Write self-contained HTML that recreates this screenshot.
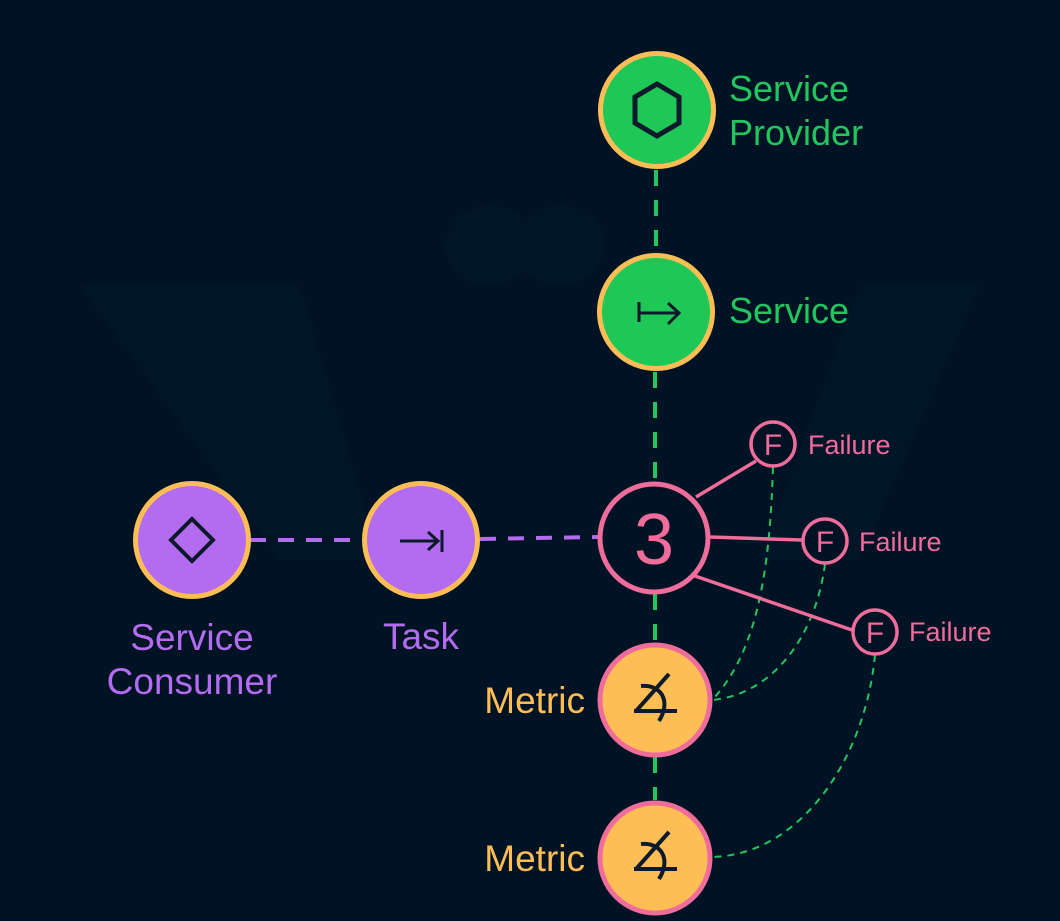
<!DOCTYPE html>
<html><head><meta charset="utf-8"><style>
html,body{margin:0;padding:0;background:#001325;}
svg{display:block}
text{font-family:"Liberation Sans",sans-serif}
</style></head><body>
<svg width="1060" height="921" viewBox="0 0 1060 921" xmlns="http://www.w3.org/2000/svg">
<rect width="1060" height="921" fill="#001325"/>
<g fill="#011529">
<path d="M80 285 L300 285 L380 560 L280 560 Z"/>
<path d="M980 285 L860 285 L760 560 L860 560 Z"/>
<ellipse cx="490" cy="245" rx="45" ry="40"/>
<ellipse cx="560" cy="245" rx="45" ry="40"/>
</g>
<g stroke="#22c55e" stroke-width="4" stroke-dasharray="16,14" fill="none">
<line x1="656" y1="170" x2="656" y2="252"/>
<line x1="655" y1="372" x2="655" y2="482"/>
<line x1="655" y1="594" x2="655" y2="643"/>
<line x1="655" y1="757" x2="655" y2="800"/>
</g>
<g stroke="#22c55e" stroke-width="2" stroke-dasharray="7,6" fill="none">
<path d="M773 467 C770 560 760 650 712 700"/>
<path d="M825 564 C815 640 770 695 712 700"/>
<path d="M875 655 C865 760 800 855 712 857"/>
</g>
<g stroke="#b36cf0" stroke-width="4" stroke-dasharray="16,12" fill="none">
<line x1="250" y1="540" x2="362" y2="540"/>
<line x1="480" y1="539" x2="598" y2="537"/>
</g>
<g stroke="#f06c9b" stroke-width="3.5" fill="none">
<line x1="696" y1="497" x2="756" y2="461"/>
<line x1="710" y1="537" x2="802" y2="540"/>
<line x1="695" y1="576" x2="852" y2="630"/>
</g>
<circle cx="657" cy="110" r="56.5" fill="#1ec756" stroke="#ffbe55" stroke-width="5"/>
<polygon points="657,84 679,97 679,123 657,136 635,123 635,97" fill="none" stroke="#0c1a2c" stroke-width="5"/>
<text x="729" y="101" fill="#22c55e" font-size="36">Service</text>
<text x="729" y="145" fill="#22c55e" font-size="36">Provider</text>
<circle cx="656" cy="312" r="56.5" fill="#1ec756" stroke="#ffbe55" stroke-width="5"/>
<g stroke="#0c1a2c" stroke-width="3" fill="none">
<line x1="639" y1="302" x2="639" y2="322"/><line x1="639" y1="313" x2="678" y2="313"/>
<polyline points="668,303 679,313 668,324"/>
</g>
<text x="729" y="323" fill="#22c55e" font-size="36">Service</text>
<circle cx="654" cy="538" r="54" fill="#001325" stroke="#f06c9b" stroke-width="5"/>
<text x="654" y="564" fill="#f06c9b" font-size="72" text-anchor="middle">3</text>
<g fill="#001325" stroke="#f06c9b" stroke-width="3.5">
<circle cx="773" cy="444" r="22"/>
<circle cx="825" cy="541" r="22"/>
<circle cx="875" cy="632" r="22"/>
</g>
<g fill="#f06c9b" font-size="30" text-anchor="middle">
<text x="773" y="455">F</text><text x="825" y="552">F</text><text x="875" y="643">F</text>
</g>
<g fill="#f06c9b" font-size="27">
<text x="808" y="454">Failure</text><text x="859" y="551">Failure</text><text x="909" y="641">Failure</text>
</g>
<g>
<circle cx="655" cy="700" r="55" fill="#ffbe55" stroke="#f06c9b" stroke-width="5"/>
<g stroke="#0c1a2c" stroke-width="4" fill="none">
<line x1="634" y1="711" x2="677" y2="711"/><line x1="636" y1="711" x2="669" y2="674"/>
<path d="M641 686 C660 684 672 700 659 721"/>
</g>
<text x="585" y="713" fill="#ffbe55" font-size="37" text-anchor="end">Metric</text>
</g>
<g>
<circle cx="655" cy="858" r="55" fill="#ffbe55" stroke="#f06c9b" stroke-width="5"/>
<g stroke="#0c1a2c" stroke-width="4" fill="none">
<line x1="634" y1="869" x2="677" y2="869"/><line x1="636" y1="869" x2="669" y2="832"/>
<path d="M641 844 C660 842 672 858 659 879"/>
</g>
<text x="585" y="871" fill="#ffbe55" font-size="37" text-anchor="end">Metric</text>
</g>
<circle cx="192" cy="540" r="56.5" fill="#b36cf0" stroke="#ffbe55" stroke-width="5"/>
<polygon points="192,519 213,540 192,561 171,540" fill="none" stroke="#0c1a2c" stroke-width="4"/>
<text x="192" y="650" fill="#b36cf0" font-size="37" text-anchor="middle">Service</text>
<text x="192" y="694" fill="#b36cf0" font-size="37" text-anchor="middle">Consumer</text>
<circle cx="421" cy="540" r="56.5" fill="#b36cf0" stroke="#ffbe55" stroke-width="5"/>
<g stroke="#0c1a2c" stroke-width="3" fill="none">
<line x1="400" y1="541" x2="437" y2="541"/><polyline points="428,532 438,541 428,550"/>
<line x1="442" y1="530" x2="442" y2="552"/>
</g>
<text x="421" y="649" fill="#b36cf0" font-size="37" text-anchor="middle">Task</text>
</svg>
</body></html>
